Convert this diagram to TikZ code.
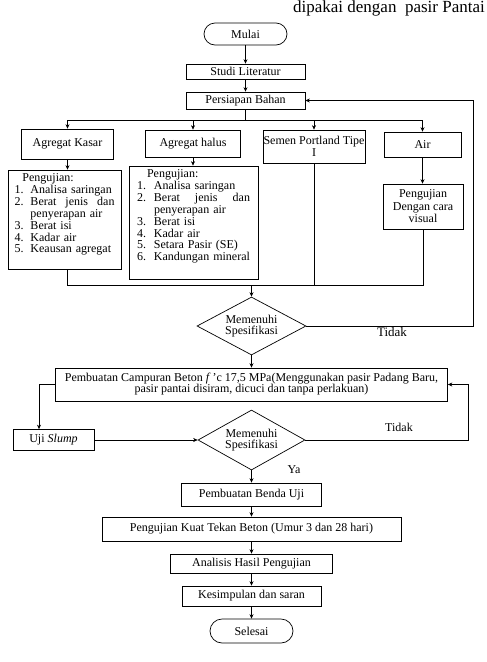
\documentclass[tikz,border=0pt]{standalone}
\usepackage{fontspec}
\setmainfont{Liberation Serif}
\usetikzlibrary{shapes.geometric,arrows.meta}

\tikzset{
  kotak/.style={draw, rectangle, inner sep=0.5pt, align=center, line width=0.7pt},
  terminal/.style={draw, rectangle, rounded corners=11pt, align=center, line width=0.7pt},
  keputusan/.style={draw, diamond, shape aspect=1.9, inner sep=0pt, align=center, line width=0.7pt},
  daftar/.style={draw, rectangle, inner ysep=0pt, align=left, line width=0.7pt,
    font=\fontsize{12}{11.8}\selectfont},
  panah/.style={-{Stealth[length=4.5pt,width=4pt]}, line width=0.6pt},
  garis/.style={line width=0.6pt}
}

\begin{document}
\begin{tikzpicture}[x=1pt, y=-1pt, font=\fontsize{12}{11.5}\selectfont]
% tikz needs semicola!!!
\useasboundingbox (0,0) rectangle (487,662);

% potongan teks halaman
\node[anchor=base east, inner sep=0pt, font=\fontsize{17}{18}\selectfont] (teks) at (485,12) {dipakai dengan\ \ pasir Pantai};

% alur atas
\node[terminal, minimum width=83pt, minimum height=22pt] (mulai) at (245.5,34) {Mulai};
\node[kotak, minimum width=119pt, minimum height=15pt] (studi) at (245.5,71.5) {Studi Literatur};
\node[kotak, minimum width=119pt, minimum height=17pt] (persiapan) at (245.5,100.5) {Persiapan Bahan};

% bahan
\node[kotak, minimum width=92pt, minimum height=30pt] (kasar) at (67.5,144) {Agregat Kasar};
\node[kotak, minimum width=95pt, minimum height=27pt] (halus) at (193,143.5) {Agregat halus};
\node[kotak, inner sep=0pt, minimum width=102pt, minimum height=33pt] (semen) at (314,146.5) {Semen Portland Tipe\\I};
\node[kotak, minimum width=77pt, minimum height=25pt] (air) at (422.5,144.5) {Air};

% pengujian bahan
\node[daftar, inner xsep=6.5pt, text width=100pt, minimum height=99pt] (ujikasar) at (64.5,219.5) {%
\begin{tabular}{@{}r@{\hspace{7pt}}p{84pt}@{}}
\multicolumn{2}{@{\hspace{8pt}}l}{Pengujian:}\\
1. & Analisa saringan\\
2. & Berat\hfill jenis\hfill dan\\
   & penyerapan air\\
3. & Berat isi\\
4. & Kadar air\\
5. & Keausan agregat\\[9pt]
\end{tabular}};
\node[daftar, inner xsep=8pt, text width=113pt, minimum height=113pt] (ujihalus) at (193.5,222.5) {%
\begin{tabular}{@{}r@{\hspace{8pt}}p{96pt}@{}}
\multicolumn{2}{@{\hspace{10pt}}l}{Pengujian:}\\
1. & Analisa saringan\\
2. & Berat\hfill jenis\hfill dan\\
   & penyerapan air\\
3. & Berat isi\\
4. & Kadar air\\
5. & Setara Pasir (SE)\\
6. & Kandungan mineral\\[11pt]
\end{tabular}};
\node[kotak, minimum width=80pt, minimum height=45pt, font=\fontsize{12}{12.5}\selectfont] (visual) at (423,206.5) {Pengujian\\Dengan cara\\visual};

% keputusan 1
\node[keputusan, minimum width=109pt, minimum height=58pt] (cek1) at (251.5,326) {Memenuhi\\Spesifikasi};
\node[font=\fontsize{13}{14}\selectfont] (tidak1) at (392,332) {Tidak};

% campuran dan slump
\node[kotak, minimum width=392pt, minimum height=33pt, font=\fontsize{12}{11}\selectfont] (campuran) at (251.5,384.5)
  {Pembuatan Campuran Beton \textit{f}\,'c 17,5 MPa(Menggunakan pasir Padang Baru,\\pasir pantai disiram, dicuci dan tanpa perlakuan)};
\node[kotak, minimum width=81pt, minimum height=21pt] (slump) at (53.5,440) {Uji \textit{Slump}};
\node[keputusan, minimum width=107pt, minimum height=60pt] (cek2) at (251.5,440) {Memenuhi\\Spesifikasi};
\node (tidak2) at (399,427) {Tidak};
\node (ya) at (294,470) {Ya};

% alur bawah
\node[kotak, minimum width=140pt, minimum height=23pt] (benda) at (251.5,494.5) {Pembuatan Benda Uji};
\node[kotak, minimum width=299pt, minimum height=24pt] (kuat) at (251.5,529) {Pengujian Kuat Tekan Beton (Umur 3 dan 28 hari)};
\node[kotak, minimum width=162pt, minimum height=19pt] (analisis) at (251.5,563.5) {Analisis Hasil Pengujian};
\node[kotak, minimum width=139pt, minimum height=20pt] (kesimpulan) at (251.5,596) {Kesimpulan dan saran};
\node[terminal, rounded corners=12pt, minimum width=83pt, minimum height=24pt] (selesai) at (251.5,631) {Selesai};

% panah atas
\draw[panah] (mulai) -- (studi);
\draw[panah] (studi) -- (persiapan);
\coordinate (bagi) at (245.5,120);
\draw[garis] (persiapan) -- (bagi);
\draw[panah] (bagi) -| (kasar);
\draw[panah] (bagi) -| (halus);
\draw[panah] (bagi) -| (semen);
\draw[panah] (bagi) -| (air);
\draw[panah] (kasar.south) -- (kasar.south |- ujikasar.north);
\draw[panah] (halus.south) -- (halus.south |- ujihalus.north);
\draw[panah] (air.south) -- (air.south |- visual.north);

% pengumpulan
\coordinate (kumpul) at (251.5,285);
\draw[garis] (kasar.south |- ujikasar.south) -- (kasar.south |- kumpul) -- (visual.south |- kumpul) -- (visual.south);
\draw[garis] (semen.south) -- (semen.south |- kumpul);
\draw[panah] (kumpul) -- (cek1);

% tidak 1
\coordinate (balik1) at (473,326);
\draw[panah] (cek1.east) -- (balik1) |- (persiapan.east);

% campuran
\draw[panah] (cek1) -- (campuran);
\draw[panah] (campuran.west) -| ([xshift=-14.5pt]slump.north);
\draw[panah] (slump) -- (cek2);

% tidak 2
\coordinate (balik2) at (468,440);
\draw[panah] (cek2.east) -- (balik2) |- (campuran.east);

% panah bawah
\draw[panah] (cek2) -- (benda);
\draw[panah] (benda) -- (kuat);
\draw[panah] (kuat) -- (analisis);
\draw[panah] (analisis) -- (kesimpulan);
\draw[panah] (kesimpulan) -- (selesai);
\end{tikzpicture}
\end{document}
